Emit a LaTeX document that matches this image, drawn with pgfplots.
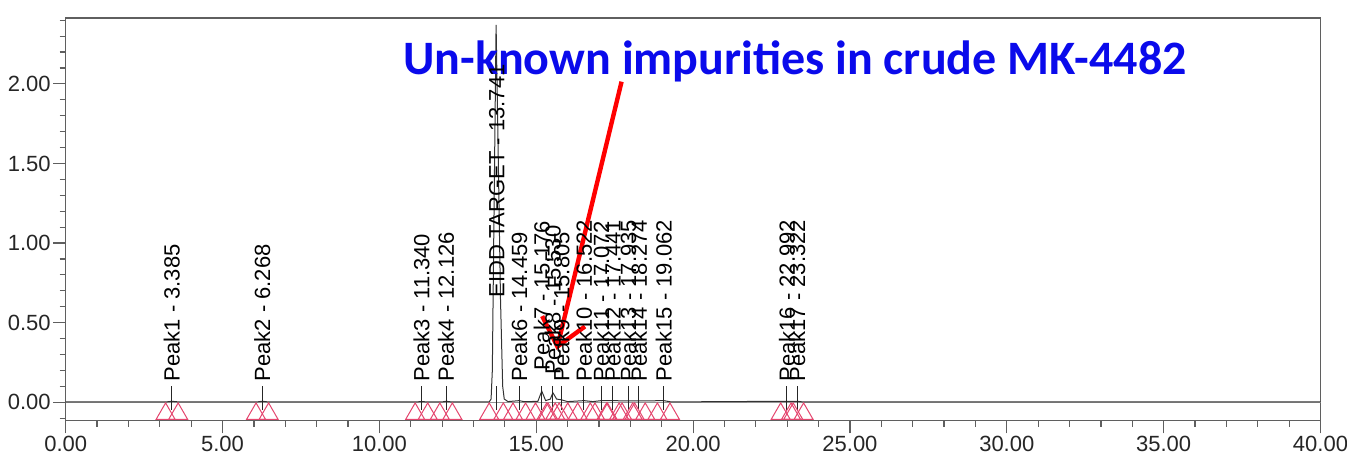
\documentclass[border=0pt]{standalone}
\usepackage{pgfplots}
\pgfplotsset{compat=1.18}
\usepackage{pgfplotstable}
\usepackage{fontspec}
\setmainfont{Liberation Sans}
\newfontfamily\carlito{Carlito}
\usetikzlibrary{arrows.meta}
\definecolor{mkpink}{RGB}{228,70,110}
\definecolor{axgray}{RGB}{95,95,95}
\definecolor{basegray}{RGB}{150,150,150}
\definecolor{annblue}{RGB}{10,10,235}

\pgfplotstableread[col sep=comma]{
rt,ly,label
3.385,0.128,Peak1 - 3.385
6.268,0.128,Peak2 - 6.268
11.340,0.128,Peak3 - 11.340
12.126,0.128,Peak4 - 12.126
13.741,0.655,EIDD TARGET - 13.741
14.459,0.128,Peak6 - 14.459
15.176,0.200,Peak7 - 15.176
15.530,0.170,Peak8 - 15.530
15.805,0.128,Peak9 - 15.805
16.522,0.128,Peak10 - 16.522
17.072,0.128,Peak11 - 17.072
17.441,0.128,Peak12 - 17.441
17.935,0.128,Peak13 - 17.935
18.274,0.128,Peak14 - 18.274
19.062,0.128,Peak15 - 19.062
22.992,0.128,Peak16 - 22.992
23.322,0.128,Peak17 - 23.322
}\peaks

\pgfplotstableread{
x y
3.185 -0.0735
3.585 -0.0735
6.068 -0.0735
6.468 -0.0735
11.140 -0.0735
11.540 -0.0735
11.926 -0.0735
12.326 -0.0735
13.500 -0.0735
13.950 -0.0735
14.259 -0.0735
14.659 -0.0735
14.976 -0.0735
15.376 -0.0735
15.330 -0.0735
15.730 -0.0735
15.605 -0.0735
16.005 -0.0735
16.322 -0.0735
16.722 -0.0735
16.872 -0.0735
17.272 -0.0735
17.241 -0.0735
17.641 -0.0735
17.735 -0.0735
18.135 -0.0735
18.074 -0.0735
18.474 -0.0735
18.862 -0.0735
19.262 -0.0735
22.792 -0.0735
23.192 -0.0735
23.122 -0.0735
23.522 -0.0735
}\markers

\begin{document}
\begin{tikzpicture}
\begin{axis}[
  scale only axis,
  width=627.4pt, height=201.35pt,
  xmin=0, xmax=40, ymin=-0.116, ymax=2.414,
  clip=false,
  axis line style={axgray, line width=0.6pt},
  tick align=outside, tick pos=left,
  xtick={0,5,...,40}, minor x tick num=4,
  ytick={0,0.5,1,1.5,2},
  minor ytick={-0.1,0,0.1,0.2,0.3,0.4,0.5,0.6,0.7,0.8,0.9,1.0,1.1,1.2,1.3,1.4,1.5,1.6,1.7,1.8,1.9,2.0,2.1,2.2,2.3,2.4},
  major tick length=6.3pt, minor tick length=3pt,
  every tick/.style={axgray, line width=0.6pt},
  tick label style={font=\fontsize{11}{13}\selectfont, text=black!85, inner sep=1pt},
  xticklabel style={/pgf/number format/fixed, /pgf/number format/fixed zerofill, /pgf/number format/precision=2, /pgf/number format/assume math mode=true},
  yticklabel style={/pgf/number format/fixed, /pgf/number format/fixed zerofill, /pgf/number format/precision=2, /pgf/number format/assume math mode=true},
]
% baseline
\addplot[basegray, line width=0.6pt] coordinates {(0,0) (40,0)};
% peak start/end markers
\addplot[only marks, mark=triangle, mark size=5.5pt, mkpink, mark options={line width=0.5pt}] table[x=x, y=y] {\markers};
% chromatogram
\addplot[black!80, line width=0.5pt] coordinates {
(0,0.002) (3.2,0.002) (3.385,0.006) (3.6,0.002) (6.1,0.002) (6.268,0.006) (6.45,0.002)
(11.2,0.002) (11.34,0.005) (11.5,0.002) (12.0,0.002) (12.126,0.006) (12.3,0.002)
(13.5,0.002) (13.56,0.02) (13.6,0.2) (13.66,1.3) (13.72,2.37) (13.78,1.65) (13.86,0.65)
(13.93,0.1) (13.98,0.02) (14.1,0.004) (14.459,0.01) (14.6,0.004) (15.05,0.005)
(15.176,0.07) (15.3,0.01) (15.45,0.02) (15.53,0.06) (15.65,0.02) (15.805,0.015)
(16.0,0.004) (16.522,0.01) (16.8,0.004) (17.072,0.01) (17.441,0.01) (17.935,0.008)
(18.274,0.008) (19.062,0.01) (19.3,0.002) (22.992,0.006) (23.322,0.006) (23.5,0.002) (40,0.002)
};
% leader lines
\addplot[draw=none, mark=none, forget plot,
  error bars/.cd, y dir=both, y explicit, error mark=none,
  error bar style={black!85, line width=0.5pt}]
  table[x=rt, y expr=0.025, y error expr=0.075] {\peaks};
% peak labels
\addplot[draw=none, mark=none, forget plot,
  nodes near coords={\pgfplotspointmeta}, point meta=explicit symbolic,
  nodes near coords style={rotate=90, anchor=west, inner sep=0pt,
    font=\fontsize{11}{13}\selectfont, text=black}]
  table[x=rt, y=ly, meta=label] {\peaks};
% annotation
\node[text=annblue, font=\carlito\bfseries\fontsize{24}{28}\selectfont, inner sep=0pt]
  at (axis cs:23.25,2.14) {Un-known impurities in crude MK-4482};
\draw[red, line width=2.2pt, -{Straight Barb[length=13pt, width=22pt]}]
  (axis cs:17.72,2.014) -- (axis cs:15.65,0.329);
\coordinate (bbSW) at (rel axis cs:-0.05236,-0.0802);
\coordinate (bbNE) at (rel axis cs:1.02112,1.0447);
\end{axis}
\pgfresetboundingbox
\path[use as bounding box] (bbSW) rectangle (bbNE);
\end{tikzpicture}
\end{document}
